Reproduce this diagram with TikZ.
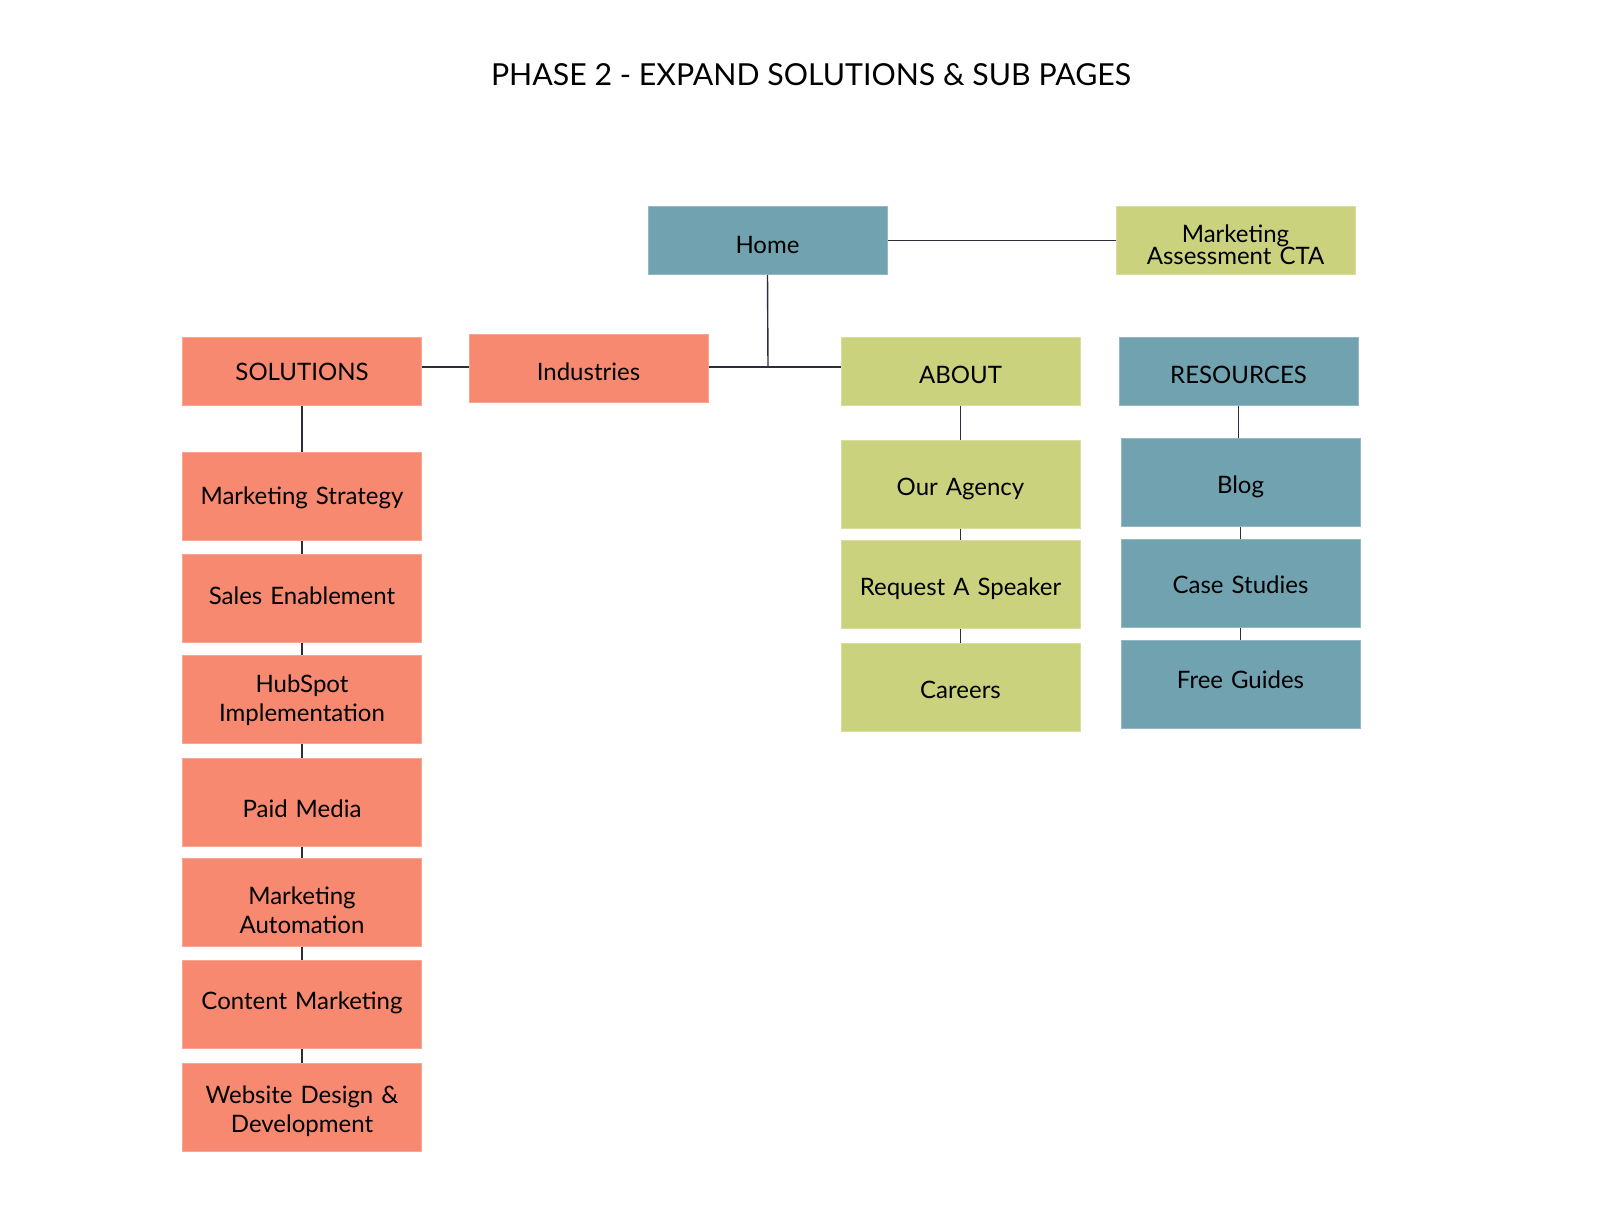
\documentclass[tikz,border=0pt]{standalone}
\usepackage{fontspec}
\setmainfont{Lato}
\definecolor{salmon}{HTML}{F6896F}
\definecolor{teal}{HTML}{70A2B0}
\definecolor{olive}{HTML}{CBD27E}
\definecolor{linec}{HTML}{2B2D3A}
\begin{document}
\begin{tikzpicture}[x=1pt,y=-1pt,
  box/.style={minimum width=239pt,inner sep=0pt,line width=1pt},
  lbl/.style={inner sep=0pt,text width=234pt,align=center,
    font=\fontsize{24}{28.6}\selectfont,text=black},
  sbox/.style={box,minimum height=68pt},
  tbox/.style={box,minimum height=88pt},
  sal/.style={fill=salmon,draw=salmon!75!white},
  tea/.style={fill=teal,draw=teal!75!white},
  oli/.style={fill=olive,draw=olive!75!white},
  conn/.style={draw=linec,line width=1.4pt}]
\useasboundingbox (0,0) rectangle (1600,1225);
\node (title) at (811,75) {\fontsize{30.3}{36}\selectfont PHASE 2 - EXPAND SOLUTIONS \& SUB PAGES};
\node[sbox,tea,label={[lbl,yshift=-4pt]center:Home}] (home) at (767.5,240.5) {};
\node[sbox,oli,label={[lbl,font=\fontsize{24}{22.5}\selectfont,yshift=-4.5pt]center:Marketing\\Assessment CTA}] (cta) at (1235.5,240.5) {};
\node[sbox,sal,label={[lbl,yshift=-1pt]center:SOLUTIONS}] (sol) at (302,371) {};
\node[sbox,sal,label={[lbl,yshift=-4pt]center:Industries}] (ind) at (588.5,368) {};
\node[sbox,oli,label={[lbl,yshift=-4pt]center:ABOUT}] (about) at (960.5,371) {};
\node[sbox,tea,label={[lbl,yshift=-4pt]center:RESOURCES}] (res) at (1238.5,371) {};
\node[tbox,oli,label={[lbl,yshift=-5pt]center:Our Agency}] (agency) at (960.5,484) {};
\node[tbox,oli,label={[lbl,yshift=-4pt]center:Request A Speaker}] (speaker) at (960.5,584.5) {};
\node[tbox,oli,label={[lbl,yshift=-3pt]center:Careers}] (careers) at (960.5,687) {};
\node[tbox,tea,label={[lbl,yshift=-4pt]center:Blog}] (blog) at (1240.5,482.5) {};
\node[tbox,tea,label={[lbl,yshift=-2pt]center:Case Studies}] (case) at (1240.5,583) {};
\node[tbox,tea,label={[lbl,yshift=4pt]center:Free Guides}] (guides) at (1240.5,684) {};
\node[tbox,sal,label={[lbl,yshift=-2pt]center:Marketing Strategy}] (ms) at (302,496) {};
\node[tbox,sal,label={[lbl,yshift=2pt]center:Sales Enablement}] (se) at (302,598) {};
\node[tbox,sal,label={[lbl,yshift=-1pt]center:HubSpot\\Implementation}] (hi) at (302,699) {};
\node[tbox,sal,label={[lbl,yshift=-7pt]center:Paid Media}] (pm) at (302,802) {};
\node[tbox,sal,label={[lbl,yshift=-8pt]center:Marketing\\Automation}] (ma) at (302,902) {};
\node[tbox,sal,label={[lbl,yshift=1pt]center:Content Marketing}] (cm) at (302,1004) {};
\node[tbox,sal,label={[lbl,yshift=-4pt]center:Website Design \&\\Development}] (wd) at (302,1107) {};
\coordinate (j) at (768,367);
\draw[conn] (home.east) -- (cta.west);
\draw[conn] (home.south) -- (j);
\draw[conn] (ind.east |- j) -- (j) -- (about.west |- j);
\draw[conn] (sol.east |- j) -- (ind.west |- j);
\draw[conn] (sol.south) -- (ms.north);
\draw[conn] (ms.south) -- (se.north);
\draw[conn] (se.south) -- (hi.north);
\draw[conn] (hi.south) -- (pm.north);
\draw[conn] (pm.south) -- (ma.north);
\draw[conn] (ma.south) -- (cm.north);
\draw[conn] (cm.south) -- (wd.north);
\draw[conn] (about.south) -- (agency.north);
\draw[conn] (agency.south) -- (speaker.north);
\draw[conn] (speaker.south) -- (careers.north);
\draw[conn] (res.south) -- (res.south |- blog.north);
\draw[conn] (blog.south) -- (case.north);
\draw[conn] (case.south) -- (guides.north);
\end{tikzpicture}
\end{document}
